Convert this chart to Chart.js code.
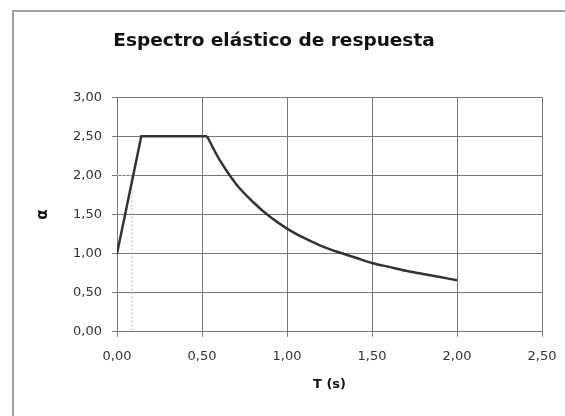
<!DOCTYPE html>
<html>
<head>
<meta charset="utf-8">
<script src="https://cdn.jsdelivr.net/npm/chart.js@4/dist/chart.umd.min.js"></script>
<style>
  html, body { margin: 0; padding: 0; background: #fff; }
  #frame { position: absolute; left: 12px; top: 10px; width: 600px; height: 450px;
           border-left: 2px solid #a0a0a0; border-top: 2px solid #a0a0a0; }
  #spectrum { position: absolute; left: 0; top: 0; }
</style>
</head>
<body>
<div id="frame"></div>
<canvas id="spectrum" width="565" height="416"></canvas>
<script>
// rising branch + plateau
var rampPeriods = [0, 0.143, 0.53];
var rampValues = [1.0, 2.5, 2.5];

// descending branch
var decayPeriods = [0.53, 0.6, 0.7, 0.8, 0.9, 1.0, 1.1, 1.2, 1.3, 1.4, 1.5, 1.6, 1.7, 1.8, 1.9, 2.0];
var decayValues = [2.5, 2.21, 1.89, 1.66, 1.47, 1.32, 1.20, 1.10, 1.02, 0.95, 0.88, 0.83, 0.78, 0.74, 0.70, 0.66];

// faint dotted guide near the start
var guideX = [0, 0.088, 0.088];
var guideY = [2.0, 2.0, 0];

var xTicks = [0, 0.5, 1.0, 1.5, 2.0, 2.5];
var yTicks = [0, 0.5, 1.0, 1.5, 2.0, 2.5, 3.0];

function pairs(xs, ys) {
  return xs.map(function(x, i) { return {x: x, y: ys[i]}; });
}
function comma(v) { return Number(v).toFixed(2).replace('.', ','); }

var font = "'DejaVu Sans', Verdana, sans-serif";

new Chart(document.getElementById('spectrum').getContext('2d'), {
  type: 'line',
  data: {
    datasets: [{
      data: pairs(rampPeriods, rampValues),
      borderColor: '#333',
      borderWidth: 2.5,
      pointRadius: 0,
      tension: 0
    }, {
      data: pairs(decayPeriods, decayValues),
      borderColor: '#333',
      borderWidth: 2.5,
      pointRadius: 0,
      cubicInterpolationMode: 'monotone'
    }, {
      data: pairs(guideX, guideY),
      borderColor: '#b8b8b8',
      borderWidth: 1,
      borderDash: [2, 2],
      pointRadius: 0
    }]
  },
  options: {
    responsive: false,
    animation: false,
    layout: { padding: { left: 6, right: 23, top: 0, bottom: 20 } },
    plugins: {
      legend: { display: false },
      tooltip: { enabled: false },
      title: {
        display: true,
        text: 'Espectro elástico de respuesta',
        color: '#111',
        font: { family: font, size: 18.5, weight: 'bold' },
        padding: { top: 30, bottom: 45 }
      }
    },
    scales: {
      x: {
        type: 'linear',
        min: 0, max: 2.5,
        afterBuildTicks: function(s) { s.ticks = xTicks.map(function(v) { return {value: v}; }); },
        afterFit: function(s) { s.paddingLeft = 0; s.paddingRight = 0; },
        ticks: { callback: comma, color: '#333', font: { family: font, size: 13 }, maxRotation: 0, padding: 12 },
        grid: { color: '#777', lineWidth: 1, tickLength: 5 },
        border: { color: '#777' },
        title: { display: true, text: 'T (s)', color: '#111', font: { family: font, size: 13, weight: 'bold' }, padding: { top: 0 } }
      },
      y: {
        min: 0, max: 3,
        afterBuildTicks: function(s) { s.ticks = yTicks.map(function(v) { return {value: v}; }); },
        afterFit: function(s) { s.width = 111; },
        ticks: { callback: comma, color: '#333', font: { family: font, size: 13 }, padding: 10 },
        grid: { color: '#777', lineWidth: 1, tickLength: 5 },
        border: { color: '#777' },
        title: { display: true, text: 'α', color: '#111', font: { family: font, size: 15, weight: 'bold' }, padding: { top: 28, bottom: 0 } }
      }
    }
  }
});
</script>
</body>
</html>
